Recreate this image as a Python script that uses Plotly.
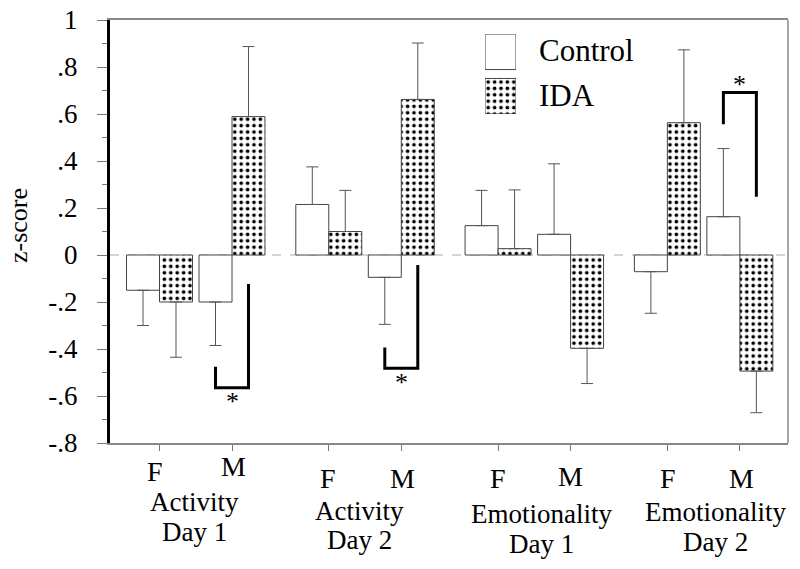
import plotly.graph_objects as go

# ---------------- data ----------------
GROUP_LINE1 = ["Activity", "Activity", "Emotionality", "Emotionality"]
GROUP_LINE2 = ["Day 1", "Day 2", "Day 1", "Day 2"]
SEXES = ["F", "M"]

# order: G1F, G1M, G2F, G2M, G3F, G3M, G4F, G4M
CONTROL_MEAN = [-0.15, -0.20, 0.215, -0.095, 0.125, 0.088, -0.071, 0.163]
CONTROL_ERR = [0.15, 0.185, 0.16, 0.20, 0.15, 0.30, 0.177, 0.29]
IDA_MEAN = [-0.20, 0.589, 0.10, 0.662, 0.027, -0.397, 0.563, -0.494]
IDA_ERR = [0.235, 0.298, 0.175, 0.24, 0.25, 0.15, 0.31, 0.177]

Y_TICKS = [-0.8, -0.6, -0.4, -0.2, 0, 0.2, 0.4, 0.6, 0.8, 1.0]
Y_TICK_LABELS = ["-.8", "-.6", "-.4", "-.2", "0", ".2", ".4", ".6", ".8", "1"]

# significance brackets (male comparisons): group index, left-arm end, crossbar, right-arm end
SIG_GROUP = [0, 1, 3]
SIG_LEFT_END = [-0.475, -0.394, 0.556]
SIG_CROSS = [-0.565, -0.482, 0.692]
SIG_RIGHT_END = [-0.123, -0.043, 0.248]
SIG_LABEL = ["*", "*", "*"]

# ---------------- layout helpers ----------------
FONT = "Liberation Serif, Times New Roman, Times, serif"
GROUP_STEP = 2.335
BW = 0.455
L, R, T, B = 110, 12, 20, 126
W, H = 800, 569
PH = H - T - B
PW = W - L - R


def py(p):
    return (H - B - p) / PH


def px(p):
    return (p - L) / PW


pos = [g * GROUP_STEP + s for g in range(4) for s in range(2)]

fig = go.Figure()


def up(m, e):
    return e if m >= 0 else 0


def down(m, e):
    return e if m < 0 else 0


err_style = dict(type="data", symmetric=False, color="#555", thickness=1, width=6)
bar_line = dict(color="#444", width=1)

fig.add_bar(
    x=pos, y=CONTROL_MEAN, width=BW, offset=-BW, name="Control",
    marker=dict(color="white", line=bar_line),
    error_y=dict(array=[up(m, e) for m, e in zip(CONTROL_MEAN, CONTROL_ERR)],
                 arrayminus=[down(m, e) for m, e in zip(CONTROL_MEAN, CONTROL_ERR)],
                 **err_style),
)
pattern = dict(shape=".", size=6.4, solidity=0.26, fgcolor="black", bgcolor="white", fillmode="replace")
fig.add_bar(
    x=pos, y=IDA_MEAN, width=BW, offset=0, name="IDA",
    marker=dict(color="white", line=bar_line, pattern=pattern),
    error_y=dict(array=[up(m, e) for m, e in zip(IDA_MEAN, IDA_ERR)],
                 arrayminus=[down(m, e) for m, e in zip(IDA_MEAN, IDA_ERR)],
                 **err_style),
)

annotations = []

# significance brackets
for g, le, cr, re_, lab in zip(SIG_GROUP, SIG_LEFT_END, SIG_CROSS, SIG_RIGHT_END, SIG_LABEL):
    xm = g * GROUP_STEP + 1
    xl = xm - BW / 2
    xr = xm + BW / 2
    fig.add_scatter(x=[xl, xl, xr, xr], y=[le, cr, cr, re_], mode="lines",
                    line=dict(color="black", width=3), hoverinfo="skip")
    above = cr > le
    annotations.append(dict(x=xm, y=cr, xref="x", yref="y", text=lab, showarrow=False,
                            font=dict(family=FONT, size=26, color="black"),
                            yanchor="middle", yshift=8 if above else -14))

# legend boxes drawn as bars in a small auxiliary subplot
fig.add_bar(x=[1], y=[1], orientation="h", width=0.8, xaxis="x2", yaxis="y2",
            marker=dict(color="white", line=bar_line), hoverinfo="skip")
fig.add_bar(x=[1], y=[0], orientation="h", width=0.8, xaxis="x2", yaxis="y2",
            marker=dict(color="white", line=bar_line, pattern=pattern), hoverinfo="skip")

for txt, yc in [("Control", 50), ("IDA", 95)]:
    annotations.append(dict(x=px(537), y=py(yc), xref="paper", yref="paper", text=txt,
                            showarrow=False, xanchor="left", yanchor="middle",
                            font=dict(family=FONT, size=31, color="black")))

# F / M labels
FM_XSHIFT = [-5, 1, -1, 1, 0, 0, 1, 2]
FM_Y = [471, 466, 478, 478, 478, 476, 479, 479]
for i, p in enumerate(pos):
    annotations.append(dict(x=p, y=py(FM_Y[i]), xref="x", yref="paper", text=SEXES[i % 2],
                            showarrow=False, xanchor="center", yanchor="middle",
                            xshift=FM_XSHIFT[i], font=dict(family=FONT, size=28, color="black")))

# group labels
G_XSHIFT = [-1, -6, 7, 12]
G_Y1 = [502, 511, 514, 512]
G_Y2 = [532, 540, 544, 542]
for g in range(4):
    xc = g * GROUP_STEP + 0.5
    for txt, yy in [(GROUP_LINE1[g], G_Y1[g]), (GROUP_LINE2[g], G_Y2[g])]:
        annotations.append(dict(x=xc, y=py(yy), xref="x", yref="paper", text=txt,
                                showarrow=False, xanchor="center", yanchor="middle",
                                xshift=G_XSHIFT[g], font=dict(family=FONT, size=27, color="black")))

# y-axis title
annotations.append(dict(x=px(18), y=py(226), xref="paper", yref="paper",
                        text="z-score", textangle=-90, showarrow=False,
                        xanchor="center", yanchor="middle",
                        font=dict(family=FONT, size=26, color="black")))

x_lo = (L - 159.5) / 72.5
x_hi = (W - R - 159.5) / 72.5

fig.update_layout(
    width=W, height=H,
    margin=dict(l=L, r=R, t=T, b=B, autoexpand=False),
    paper_bgcolor="white", plot_bgcolor="white",
    showlegend=False,
    barmode="overlay",
    font=dict(family=FONT),
    annotations=annotations,
    xaxis=dict(range=[x_lo, x_hi], tickvals=pos, ticks="outside", ticklen=6,
               tickcolor="#777", showticklabels=False, showline=True, linecolor="#888",
               linewidth=1.5, mirror=True, showgrid=False, zeroline=False, automargin=False),
    yaxis=dict(range=[-0.8, 1.0], tickvals=Y_TICKS, ticktext=Y_TICK_LABELS,
               ticks="outside", ticklen=10, tickcolor="#777", tickwidth=1,
               showline=True, linecolor="black", linewidth=3, showgrid=False, zeroline=False,
               ticklabelstandoff=14, automargin=False,
               minor=dict(dtick=0.1, ticks="outside", ticklen=5, tickcolor="#777"),
               tickfont=dict(family=FONT, size=27, color="black")),
    xaxis2=dict(domain=[px(485), px(516)], anchor="y2", range=[0, 1], visible=False,
                automargin=False),
    yaxis2=dict(domain=[py(114), py(34)], anchor="x2", range=[-0.4, 1.4], visible=False,
                automargin=False),
    shapes=[
        dict(type="line", xref="paper", yref="y", x0=0, x1=1, y0=0, y1=0,
             line=dict(color="#aaa", width=1, dash="dash"), layer="below"),
        dict(type="line", xref="paper", yref="paper", x0=1, x1=1, y0=0, y1=1,
             line=dict(color="#888", width=1.5)),
    ],
)

fig.write_html("out.html", config={"displayModeBar": False},
               post_script="document.body.style.margin='0px';")
